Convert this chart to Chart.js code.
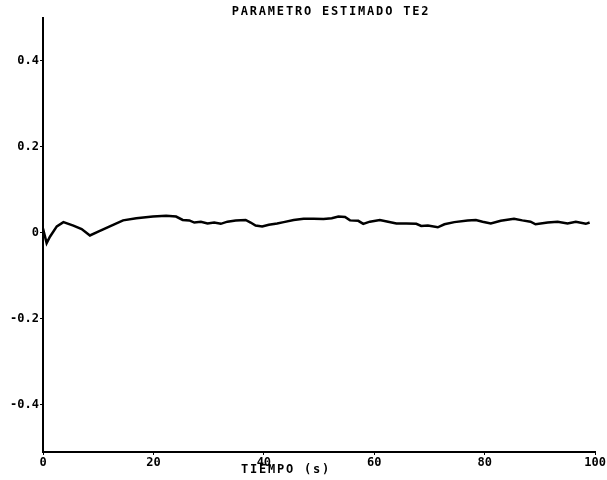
<!DOCTYPE html>
<html>
<head>
<meta charset="utf-8">
<script src="https://cdn.jsdelivr.net/npm/chart.js@4/dist/chart.umd.min.js"></script>
<style>
  html, body { margin: 0; padding: 0; background: #fff; }
</style>
</head>
<body>
<canvas id="chart" width="607" height="480"></canvas>
<script>
// values
const chartTitle = "PARAMETRO ESTIMADO TE2";
const xTitle = "TIEMPO (s)";
const yTicks = [-0.4, -0.2, 0, 0.2, 0.4];
const tiempo = [0, 0.66, 1.26, 2.5, 3.7, 5.5, 7.0, 8.5, 10.0, 12.1, 14.5, 16.9, 19.9, 22.3, 24.1, 25.3, 26.5,
    27.4, 28.6, 29.8, 31.0, 32.2, 33.4, 34.9, 36.7, 37.6, 38.5, 39.7, 40.9, 42.4, 43.6, 45.4, 47.2, 49.0, 50.8, 52.3,
    53.5, 54.7, 55.6, 57.1, 58.0, 59.2, 61.0, 62.5, 64.0, 65.8, 67.6, 68.5, 69.7, 71.5, 72.7, 74.5, 76.9, 78.4,
    79.6, 81.1, 82.9, 85.3, 86.8, 88.3, 89.2, 91.4, 93.2, 95.0, 96.5, 98.3, 99.0];
const param = [0.01, -0.024, -0.009, 0.015, 0.025, 0.017, 0.009, -0.006, 0.003, 0.015, 0.029, 0.034, 0.038, 0.040, 0.038, 0.030, 0.029,
    0.024, 0.026, 0.022, 0.024, 0.021, 0.026, 0.029, 0.030, 0.024, 0.017, 0.015, 0.019, 0.022, 0.025, 0.030, 0.033, 0.033, 0.032, 0.034,
    0.038, 0.037, 0.029, 0.028, 0.021, 0.026, 0.030, 0.026, 0.022, 0.022, 0.021, 0.016, 0.017, 0.013, 0.020, 0.025, 0.029, 0.030,
    0.026, 0.022, 0.028, 0.033, 0.029, 0.026, 0.020, 0.024, 0.026, 0.022, 0.026, 0.021, 0.024];

const font = "'DejaVu Sans Mono', monospace";

const textPlugin = {
    id: 'textPlugin',
    afterDraw(chart) {
        const ctx = chart.ctx;
        ctx.save();
        ctx.fillStyle = '#000';
        ctx.font = 'bold 12px ' + font;
        ctx.letterSpacing = '1.8px';
        ctx.textAlign = 'center';
        ctx.textBaseline = 'middle';
        ctx.fillText(chartTitle, 331, 12);
        ctx.fillText(xTitle, 286, 470);
        ctx.restore();
    }
};

new Chart(document.getElementById('chart'), {
    type: 'scatter',
    data: {
        datasets: [{
            data: tiempo.map((t, i) => ({ x: t, y: param[i] })),
            showLine: true,
            borderColor: '#000',
            borderWidth: 2.5,
            pointRadius: 0,
            tension: 0
        }]
    },
    options: {
        responsive: false,
        animation: false,
        layout: { padding: { top: 18, right: 9, left: 0, bottom: 0 } },
        plugins: {
            legend: { display: false },
            tooltip: { enabled: false }
        },
        scales: {
            x: {
                type: 'linear',
                min: 0,
                max: 100,
                ticks: {
                    stepSize: 20,
                    color: '#000',
                    font: { family: font, weight: 'bold', size: 12 },
                    padding: 1,
                    maxRotation: 0
                },
                grid: { display: true, drawOnChartArea: false, color: '#000', tickLength: 3 },
                border: { color: '#000', width: 2 },
                afterFit(scale) { scale.height = 28; }
            },
            y: {
                min: -0.51,
                max: 0.5,
                afterBuildTicks(scale) { scale.ticks = yTicks.map(v => ({ value: v })); },
                ticks: {
                    color: '#000',
                    font: { family: font, weight: 'bold', size: 12 },
                    padding: 1,
                    callback: v => (Math.abs(v) < 1e-9 ? '0' : v.toFixed(1))
                },
                grid: { display: true, drawOnChartArea: false, color: '#000', tickLength: 3 },
                border: { color: '#000', width: 2 },
                afterFit(scale) { scale.width = 43; }
            }
        }
    },
    plugins: [textPlugin]
});
</script>
</body>
</html>
